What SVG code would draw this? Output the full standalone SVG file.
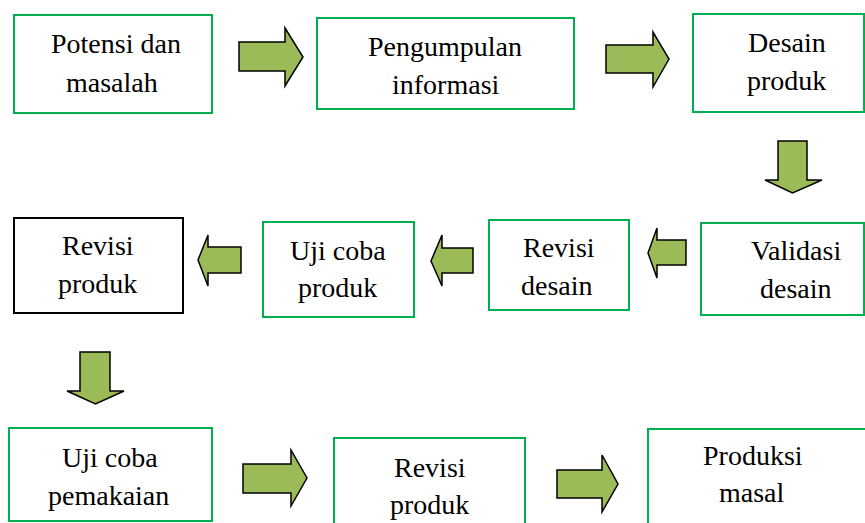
<svg xmlns="http://www.w3.org/2000/svg" width="865" height="523" viewBox="0 0 865 523">
<rect width="865" height="523" fill="#fff"/>
<g id="nodes" fill="#fff" stroke="#00b050" stroke-width="2">
<g id="n1"><rect x="14" y="15" width="198" height="98"/></g>
<g id="n2"><rect x="317" y="18" width="257" height="91"/></g>
<g id="n3"><rect x="693" y="14" width="171" height="98"/></g>
<g id="n4"><rect x="701" y="223" width="163" height="92"/></g>
<g id="n5"><rect x="489" y="220" width="140" height="90"/></g>
<g id="n6"><rect x="263" y="222" width="151" height="95"/></g>
<g id="n7"><rect x="14" y="218" width="169" height="95" stroke="#000"/></g>
<g id="n8"><rect x="9" y="428" width="203" height="93"/></g>
<g id="n9"><rect x="334" y="438" width="191" height="95"/></g>
<g id="n10"><rect x="648" y="429" width="230" height="104"/></g>
</g>
<g id="labels" fill="#000">
<text font-family="Liberation Serif" font-size="28" x="51" y="53">Potensi dan</text>
<text font-family="Liberation Serif" font-size="28" x="66" y="92">masalah</text>
<text font-family="Liberation Serif" font-size="28" x="368" y="56">Pengumpulan</text>
<text font-family="Liberation Serif" font-size="28" x="392" y="94">informasi</text>
<text font-family="Liberation Serif" font-size="28" x="748" y="52">Desain</text>
<text font-family="Liberation Serif" font-size="28" x="747" y="90">produk</text>
<text font-family="Liberation Serif" font-size="28" x="751" y="260">Validasi</text>
<text font-family="Liberation Serif" font-size="28" x="760" y="298">desain</text>
<text font-family="Liberation Serif" font-size="28" x="523" y="257">Revisi</text>
<text font-family="Liberation Serif" font-size="28" x="521" y="295">desain</text>
<text font-family="Liberation Serif" font-size="28" x="290" y="260">Uji coba</text>
<text font-family="Liberation Serif" font-size="28" x="298" y="297">produk</text>
<text font-family="Liberation Serif" font-size="28" x="62" y="255">Revisi</text>
<text font-family="Liberation Serif" font-size="28" x="58" y="293">produk</text>
<text font-family="Liberation Serif" font-size="28" x="62" y="467">Uji coba</text>
<text font-family="Liberation Serif" font-size="28" x="48" y="505">pemakaian</text>
<text font-family="Liberation Serif" font-size="28" x="394" y="477">Revisi</text>
<text font-family="Liberation Serif" font-size="28" x="390" y="514">produk</text>
<text font-family="Liberation Serif" font-size="28" x="703" y="465">Produksi</text>
<text font-family="Liberation Serif" font-size="28" x="719" y="502">masal</text>
</g>
<g id="connectors" fill="#9bbb59" stroke="#000" stroke-width="1.5">
<path d="M239,42 H285 V28 L303,57 L285,86 V71 H239 Z"/>
<path d="M606,45 H653 V32 L669,59 L653,87 V73 H606 Z"/>
<path d="M778,141 H807 V180 H822 L792.5,193 L765,180 H778 Z"/>
<path d="M686,240 H657 V228 L648,253 L657,278 V265 H686 Z"/>
<path d="M473,248 H442 V235 L431,261 L442,286 V273 H473 Z"/>
<path d="M241,247 H208 V235 L198,260 L208,286 V273 H241 Z"/>
<path d="M80,352 H110 V391 H124 L95.5,404 L67,391 H80 Z"/>
<path d="M243,464 H291 V450 L307,478 L291,506 V493 H243 Z"/>
<path d="M557,470 H602 V455 L618,484 L602,512 V498 H557 Z"/>
</g>
</svg>
